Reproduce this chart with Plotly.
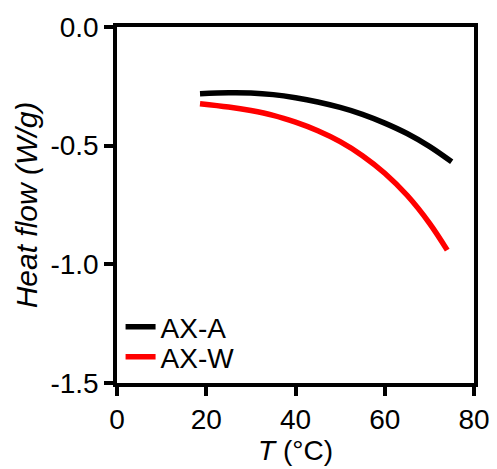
import plotly.graph_objects as go

# Data
t_axa = [18.6, 25, 30, 35, 40, 45, 50, 55, 60, 65, 70, 75]
hf_axa = [-0.281, -0.277, -0.278, -0.285, -0.298, -0.316, -0.339, -0.368, -0.405, -0.449, -0.503, -0.568]

t_axw = [18.6, 25, 30, 35, 40, 45, 50, 55, 60, 65, 70, 74]
hf_axw = [-0.323, -0.337, -0.352, -0.372, -0.401, -0.437, -0.483, -0.542, -0.616, -0.709, -0.826, -0.940]

x_ticks = [0, 20, 40, 60, 80]
y_ticks = [0.0, -0.5, -1.0, -1.5]
y_ticklabels = ["0.0", "-0.5", "-1.0", "-1.5"]

FONT = "Liberation Sans, Arial, sans-serif"
FS = 28
BODY = 8  # default page body margin in the browser

fig = go.Figure()
fig.add_trace(go.Scatter(x=t_axa, y=hf_axa, mode="lines", name="AX-A", legend="legend",
                         line=dict(color="black", width=5.5, shape="spline", smoothing=1.0)))
fig.add_trace(go.Scatter(x=t_axw, y=hf_axw, mode="lines", name="AX-W", legend="legend2",
                         line=dict(color="#ff0000", width=5.5, shape="spline", smoothing=1.0)))

axis_common = dict(showline=True, linecolor="black", linewidth=3.5, mirror=True,
                   ticks="outside", ticklen=9, tickwidth=3.5, tickcolor="black",
                   showgrid=False, zeroline=False,
                   tickfont=dict(family=FONT, size=FS, color="black"))

fig.update_xaxes(range=[0, 80], tickvals=x_ticks,
                 title=dict(text="<i>T</i> (°C)", font=dict(family=FONT, size=FS, color="black"), standoff=2),
                 **axis_common)
fig.update_yaxes(range=[-1.5, 0], tickvals=y_ticks, ticktext=y_ticklabels,
                 title=dict(text="<i>Heat flow (W/g)</i>", font=dict(family=FONT, size=30, color="black"), standoff=5),
                 **axis_common)

leg_common = dict(xanchor="left", yanchor="middle", bgcolor="rgba(0,0,0,0)",
                  font=dict(family=FONT, size=FS, color="black"), itemwidth=30)

fig.update_layout(
    width=497 - BODY, height=469 - BODY,
    margin=dict(l=117 - BODY, r=23, t=27 - BODY, b=86, autoexpand=False),
    plot_bgcolor="white", paper_bgcolor="white",
    showlegend=True,
    legend=dict(x=0.01, y=(383 - 327) / 356, **leg_common),
    legend2=dict(x=0.01, y=(383 - 357) / 356, **leg_common),
)

fig.write_html("out.html")
